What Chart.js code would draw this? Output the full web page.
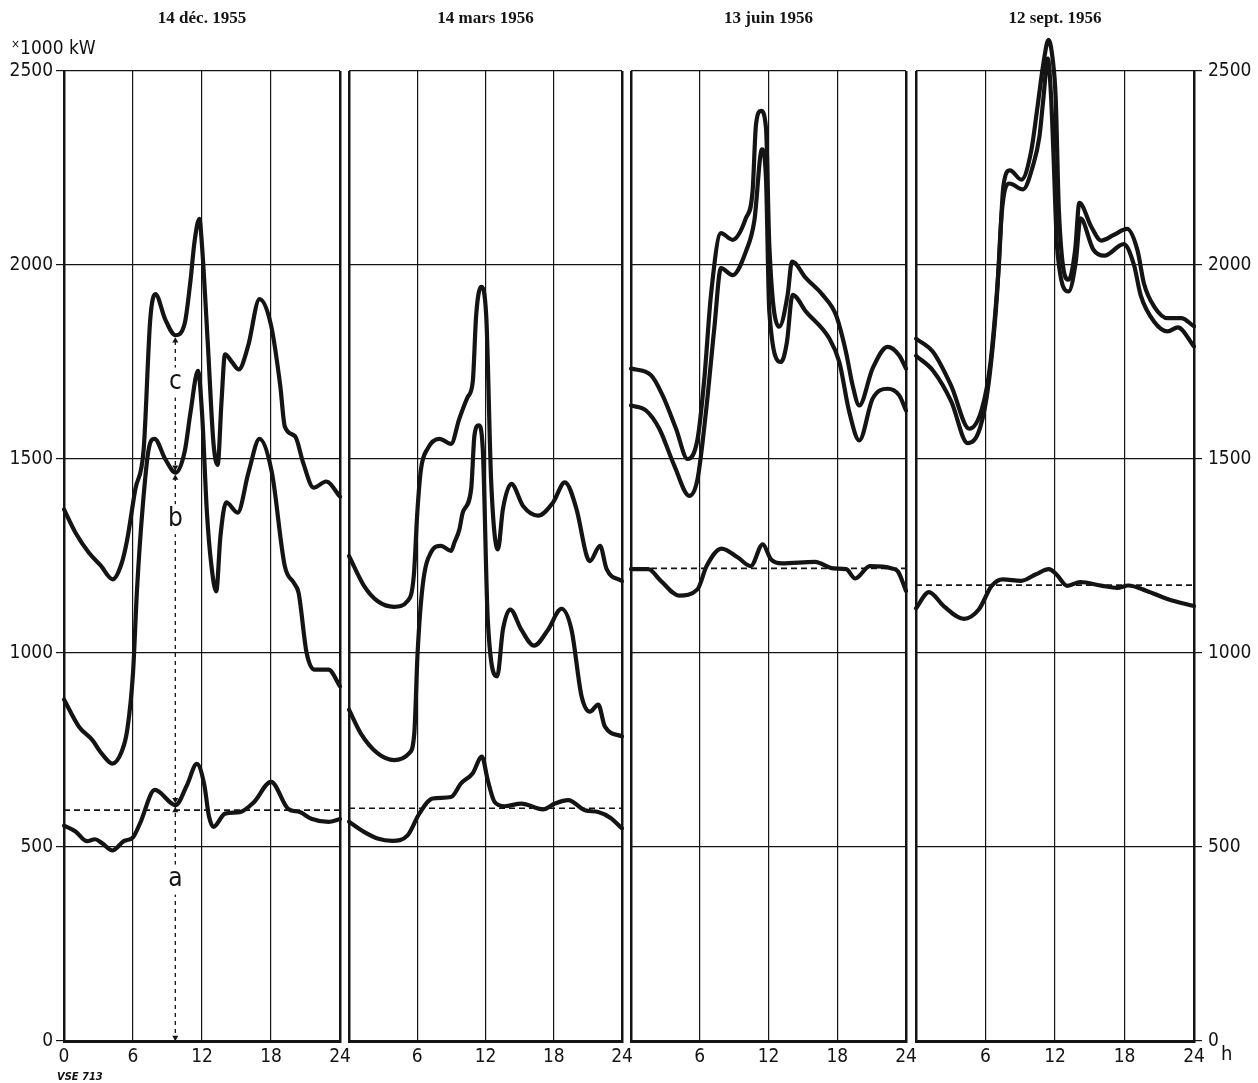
<!DOCTYPE html>
<html><head><meta charset="utf-8">
<script src="https://cdn.jsdelivr.net/npm/chart.js@4.4.1/dist/chart.umd.min.js"></script>
<style>
html,body{margin:0;padding:0;background:#fff;}
#wrap{position:relative;width:1258px;height:1083px;overflow:hidden;background:#fff;}
canvas.pc{position:absolute;left:0;top:0;}
.t{position:absolute;color:#111;font-family:'DejaVu Sans Condensed','DejaVu Sans',sans-serif;white-space:nowrap;line-height:1;}
</style></head><body>
<div id="wrap">
<canvas id="p1" class="pc" width="1258" height="1083"></canvas>
<canvas id="p2" class="pc" width="1258" height="1083"></canvas>
<canvas id="p3" class="pc" width="1258" height="1083"></canvas>
<canvas id="p4" class="pc" width="1258" height="1083"></canvas>
<div class="t" style="left:11px;top:38px;font-size:19px;"><span style="font-size:12px;position:relative;top:-6px;">×</span>1000 kW</div>
<div class="t" style="left:1221px;top:1043px;font-size:20px;">h</div>
<div class="t" style="left:57px;top:1071px;font-size:11px;font-style:italic;font-weight:bold;">VSE 713</div>
</div>
<script>
// ---------- data ----------
const panelTitles = ['14 déc. 1955', '14 mars 1956', '13 juin 1956', '12 sept. 1956'];
const hourTicks = [0, 6, 12, 18, 24];
const loadTicks = [0, 500, 1000, 1500, 2000, 2500];

// 14 déc. 1955
const decHoursA = [0, 1, 2, 2.7, 3.3, 4.2, 5.2, 6, 6.6, 7.9, 9.7, 10.7, 11.55, 12.2, 12.6, 13.0, 14.0, 15.3, 16.5, 18.0, 19.5, 20.5, 21.5, 23, 24];
const decLoadA  = [555, 540, 515, 520, 510, 491, 515, 525, 560, 647, 608, 660, 714, 660, 580, 552, 586, 590, 615, 668, 598, 590, 573, 565, 572];
const decHoursB = [0, 1.3, 2.45, 3.3, 4.2, 5.0, 5.5, 6.0, 6.35, 6.85, 7.37, 7.87, 8.8, 9.7, 10.5, 11.0, 11.65, 12.0, 12.43, 12.8, 13.24, 13.6, 14.1, 15.1, 16.05, 17.0, 18.07, 19.2, 20.0, 20.4, 21.1, 21.8, 23.0, 24];
const decLoadB  = [880, 810, 776, 740, 715, 745, 802, 948, 1164, 1379, 1526, 1552, 1500, 1465, 1520, 1620, 1727, 1620, 1361, 1230, 1159, 1300, 1388, 1362, 1466, 1552, 1466, 1224, 1180, 1155, 1000, 957, 957, 914];
const decHoursC = [0, 1, 2.15, 3.2, 4.24, 5.0, 5.5, 6.2, 6.93, 7.5, 7.95, 8.8, 9.69, 10.5, 11.0, 11.35, 11.77, 12.0, 12.5, 13.0, 13.36, 13.7, 14.0, 14.6, 15.2, 16.0, 17.0, 18.0, 18.8, 19.2, 20.1, 20.8, 21.7, 22.8, 24];
const decLoadC  = [1370, 1310, 1259, 1225, 1190, 1230, 1293, 1422, 1526, 1860, 1925, 1860, 1819, 1850, 1960, 2060, 2119, 2050, 1800, 1540, 1485, 1650, 1770, 1750, 1731, 1790, 1912, 1845, 1690, 1584, 1558, 1490, 1426, 1442, 1403];
const decMeanA = 595;

// 14 mars 1956
const marHoursA = [0, 1.32, 2.5, 3.82, 5.15, 6.18, 7.35, 8.97, 9.85, 10.88, 11.68, 12.2, 12.8, 13.68, 15.15, 17.06, 18.1, 19.27, 20.74, 21.9, 23, 24];
const marLoadA  = [565, 539, 522, 516, 530, 586, 625, 629, 664, 690, 733, 672, 616, 605, 612, 597, 612, 621, 595, 590, 575, 548];
const marHoursB = [0, 1.03, 2.5, 3.97, 5.3, 5.74, 6.03, 6.47, 7.2, 8.09, 8.97, 9.27, 9.7, 10.0, 10.74, 11.03, 11.41, 11.76, 12.2, 13.03, 13.53, 14.18, 15.15, 16.27, 17.5, 18.68, 19.56, 20.45, 21.18, 21.91, 22.5, 24];
const marLoadB  = [854, 793, 742, 724, 742, 793, 1000, 1172, 1259, 1276, 1263, 1285, 1318, 1362, 1423, 1561, 1587, 1526, 1086, 940, 1060, 1112, 1060, 1019, 1060, 1114, 1060, 888, 849, 867, 810, 785];
const marHoursC = [0, 1.32, 2.5, 3.97, 5.15, 5.7, 6.0, 6.33, 6.9, 7.94, 8.97, 9.7, 10.44, 10.88, 11.18, 11.62, 12.06, 12.5, 13.09, 13.53, 14.27, 15.3, 16.62, 17.94, 18.97, 20.0, 20.9, 21.18, 22.07, 22.65, 24];
const marLoadC  = [1250, 1173, 1134, 1119, 1134, 1200, 1360, 1474, 1526, 1552, 1539, 1604, 1660, 1699, 1871, 1944, 1871, 1441, 1267, 1371, 1436, 1379, 1354, 1388, 1440, 1371, 1250, 1237, 1276, 1216, 1185];
const marMeanA = 600;

// 13 juin 1956
const junHoursA = [0, 1.5, 2.6, 4.2, 5.8, 6.6, 7.9, 9.33, 10.45, 11.5, 12.2, 13.18, 16.06, 17.65, 18.78, 19.57, 20.85, 22.77, 23.3, 24];
const junLoadA  = [1216, 1216, 1186, 1148, 1164, 1224, 1269, 1246, 1224, 1280, 1242, 1231, 1235, 1218, 1216, 1192, 1224, 1218, 1210, 1160];
const junHoursB = [0, 1.31, 2.47, 3.78, 5.09, 5.81, 6.54, 7.27, 7.85, 8.87, 10.03, 10.76, 11.43, 11.78, 12.07, 13.09, 13.6, 14.1, 15.27, 17.3, 18.18, 19.05, 19.92, 21.08, 22.39, 23.41, 24];
const junLoadB  = [1638, 1625, 1578, 1483, 1405, 1449, 1621, 1837, 1992, 1974, 2035, 2113, 2298, 2224, 1880, 1750, 1800, 1923, 1880, 1811, 1750, 1621, 1548, 1655, 1681, 1664, 1625];
const junHoursC = [0, 1.75, 2.76, 3.93, 4.94, 5.81, 6.4, 6.98, 7.85, 8.87, 10.03, 10.61, 10.91, 11.34, 11.78, 12.07, 12.94, 13.67, 14.05, 15.27, 16.72, 17.89, 18.76, 19.34, 19.92, 21.08, 22.39, 23.41, 24];
const junLoadC  = [1733, 1716, 1664, 1578, 1500, 1552, 1707, 1923, 2082, 2065, 2121, 2190, 2362, 2397, 2354, 2052, 1841, 1923, 2009, 1966, 1923, 1871, 1776, 1690, 1638, 1733, 1789, 1767, 1733];
const junMeanA = 1218;

// 12 sept. 1956
const sepHoursA = [0, 1.12, 2.39, 4.14, 5.42, 6.53, 7.49, 9.08, 10.36, 11.47, 12.11, 13.07, 14.18, 16.09, 17.37, 18.33, 19.92, 21.83, 24];
const sepLoadA  = [1115, 1157, 1121, 1088, 1112, 1173, 1190, 1186, 1203, 1216, 1203, 1173, 1183, 1173, 1168, 1174, 1160, 1138, 1121];
const sepHoursB = [0, 1.49, 3.05, 4.45, 5.53, 6.28, 6.99, 7.41, 8.06, 9.24, 10.08, 10.65, 11.0, 11.38, 11.65, 11.85, 12.2, 13.18, 13.8, 14.2, 15.3, 16.26, 17.94, 18.82, 19.4, 20.56, 21.73, 22.6, 24];
const sepLoadB  = [1766, 1727, 1648, 1541, 1580, 1697, 1922, 2137, 2210, 2195, 2254, 2330, 2430, 2532, 2440, 2300, 2039, 1932, 2010, 2120, 2040, 2024, 2054, 2000, 1922, 1854, 1829, 1839, 1790];
const sepHoursC = [0, 1.49, 3.05, 4.6, 5.69, 6.42, 7.13, 7.55, 8.11, 9.1, 9.94, 10.5, 11.0, 11.44, 11.8, 12.06, 12.34, 13.18, 13.74, 14.1, 15.14, 15.98, 17.1, 18.23, 19.11, 19.69, 20.56, 21.73, 22.89, 24];
const sepLoadC  = [1810, 1775, 1688, 1578, 1629, 1746, 1990, 2205, 2244, 2220, 2293, 2410, 2520, 2580, 2530, 2430, 2137, 1962, 2039, 2160, 2098, 2063, 2078, 2093, 2039, 1951, 1893, 1863, 1863, 1842];
const sepMeanA = 1175;

// a / b / c explanation arrow (panel 1)
const arrowHour = 9.68;
const arrowLevels = [0, 608, 1465, 1819];
const segmentNames = ['a', 'b', 'c'];
const segmentLabelLoads = [416, 1345, 1697];

// ---------- drawing ----------
const INK = '#141414';
const FONT_Y = "'DejaVu Sans Condensed', 'DejaVu Sans', sans-serif";
const FONT_X = "'Liberation Sans Narrow', 'DejaVu Sans Condensed', sans-serif";
const FONT_T = "'Liberation Serif', 'DejaVu Serif', serif";

const zip = (hs, vs) => hs.map((h, i) => ({x: h, y: vs[i]}));

function curve(hs, vs) {
  return {data: zip(hs, vs), borderColor: INK, borderWidth: 4.2, pointRadius: 0,
    cubicInterpolationMode: 'monotone', fill: false, clip: false, borderCapStyle: 'round', borderJoinStyle: 'round'};
}
function meanLine(m) {
  return {data: [{x: 0, y: m}, {x: 24, y: m}], borderColor: INK, borderWidth: 1.6,
    borderDash: [6, 4], pointRadius: 0, tension: 0, fill: false};
}

const abcLabelPlugin = {
  id: 'abcLabels',
  afterDatasetsDraw(chart) {
    const {ctx, scales: {x, y}} = chart;
    ctx.save();
    ctx.font = "26px " + FONT_Y;
    ctx.textAlign = 'center';
    ctx.textBaseline = 'middle';
    segmentNames.forEach((t, i) => {
      const px = x.getPixelForValue(arrowHour), py = y.getPixelForValue(segmentLabelLoads[i]);
      ctx.fillStyle = '#fff';
      ctx.fillRect(px - 9, py - 15, 18, 30);
      ctx.fillStyle = INK;
      ctx.fillText(t, px, py);
    });
    ctx.restore();
  }
};

function arrowDatasets() {
  const heads = [{x: arrowHour, y: arrowLevels[0] + 9}];
  const rot = [180];
  for (let i = 1; i < arrowLevels.length; i++) {
    heads.push({x: arrowHour, y: arrowLevels[i] - 14}); rot.push(0);
    if (i < arrowLevels.length - 1) { heads.push({x: arrowHour, y: arrowLevels[i] + 14}); rot.push(180); }
  }
  return [
    {data: [{x: arrowHour, y: arrowLevels[0]}, {x: arrowHour, y: arrowLevels[arrowLevels.length - 1]}],
     borderColor: INK, borderWidth: 1.3, borderDash: [4, 4], pointRadius: 0, tension: 0, fill: false},
    {data: heads, showLine: false, pointStyle: 'triangle', pointRadius: 3.5, pointRotation: rot,
     pointBackgroundColor: INK, pointBorderWidth: 0, pointBorderColor: INK}
  ];
}

const panels = [
  {id: 'p1', padL: 0, padR: 1258 - 340, axis: 'left', zero: true, title: panelTitles[0],
   series: [[decHoursA, decLoadA], [decHoursB, decLoadB], [decHoursC, decLoadC]], mean: decMeanA, arrow: true},
  {id: 'p2', padL: 349, padR: 1258 - 622, axis: null, zero: false, title: panelTitles[1],
   series: [[marHoursA, marLoadA], [marHoursB, marLoadB], [marHoursC, marLoadC]], mean: marMeanA},
  {id: 'p3', padL: 631, padR: 1258 - 906, axis: null, zero: false, title: panelTitles[2],
   series: [[junHoursA, junLoadA], [junHoursB, junLoadB], [junHoursC, junLoadC]], mean: junMeanA},
  {id: 'p4', padL: 916, padR: 0, axis: 'right', zero: false, title: panelTitles[3],
   series: [[sepHoursA, sepLoadA], [sepHoursB, sepLoadB], [sepHoursC, sepLoadC]], mean: sepMeanA}
];

panels.forEach(p => {
  const datasets = [meanLine(p.mean)].concat(p.series.map(s => curve(s[0], s[1])));
  if (p.arrow) datasets.push(...arrowDatasets());
  const showY = !!p.axis;
  new Chart(document.getElementById(p.id), {
    type: 'line',
    data: {datasets},
    plugins: p.arrow ? [abcLabelPlugin] : [],
    options: {
      responsive: false, maintainAspectRatio: false, animation: false,
      layout: {padding: {left: p.padL, right: p.padR, top: 0, bottom: 0}},
      plugins: {
        legend: {display: false}, tooltip: {enabled: false},
        title: {display: true, text: p.title, fullSize: false, color: INK,
          font: {family: FONT_T, size: 17, weight: 'bold', lineHeight: 1.2},
          padding: {top: 8, bottom: 71 - 8 - 20.4}}
      },
      scales: {
        x: {
          type: 'linear', min: 0, max: 24,
          afterFit: s => { s.height = 42; },
          afterBuildTicks: s => { s.ticks = hourTicks.map(v => ({value: v})); },
          ticks: {autoSkip: false, maxRotation: 0, padding: 5, color: INK,
            font: {family: FONT_X, size: 19},
            callback: v => (v === 0 && !p.zero) ? '' : String(v)},
          grid: {color: INK, drawTicks: false,
            lineWidth: ctx => (ctx.tick && (ctx.tick.value === 0 || ctx.tick.value === 24)) ? 2.5 : 1.2},
          border: {display: true, color: INK, width: 3}
        },
        y: {
          type: 'linear', min: 0, max: 2500, position: p.axis || 'left',
          afterFit: s => { s.width = showY ? 64 : 0; },
          afterBuildTicks: s => { s.ticks = loadTicks.map(v => ({value: v})); },
          ticks: {display: showY, padding: p.axis === 'right' ? 6 : 3, color: INK,
            font: {family: FONT_Y, size: 19}, callback: v => String(v)},
          grid: {color: INK, lineWidth: 1.2, drawTicks: showY, tickLength: 8},
          border: {display: false}
        }
      }
    }
  });
});
</script>
</body></html>
